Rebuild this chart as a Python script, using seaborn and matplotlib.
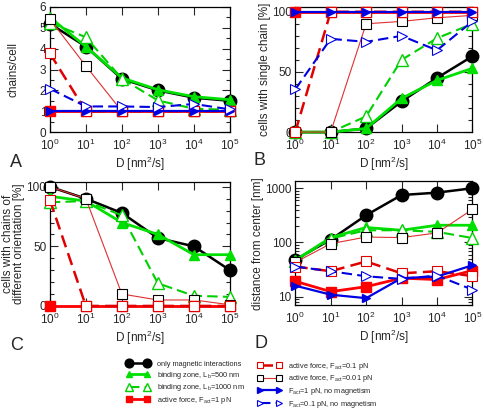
import numpy as np
import pandas as pd
import matplotlib
matplotlib.use('Agg')
import matplotlib.pyplot as plt
import seaborn as sns
from matplotlib.lines import Line2D
from matplotlib.ticker import MultipleLocator, LogLocator, NullFormatter, NullLocator

# Diffusion coefficients D [nm^2/s]
D_VALUES = [1, 10, 100, 1000, 10000, 100000]

SERIES = ['magnetic', 'bind500', 'bind1000', 'act001', 'act1', 'act01', 'nomag1', 'nomag01']

# Panel A: chains per cell
chains_magnetic = [5.2, 4.1, 2.55, 2.0, 1.65, 1.5]
chains_bind500 = [5.5, 4.1, 2.6, 2.03, 1.7, 1.55]
chains_bind1000 = [5.25, 4.55, 2.56, 1.52, 1.12, 1.07]
chains_act001 = [5.42, 3.17, 1.0, 1.0, 1.0, 1.0]
chains_act1 = [1.0, 1.0, 1.0, 1.0, 1.0, 1.0]
chains_act01 = [3.78, 1.0, 1.0, 1.0, 1.0, 1.0]
chains_nomag1 = [1.0, 1.0, 1.0, 1.0, 1.0, 1.0]
chains_nomag01 = [2.08, 1.23, 1.23, 1.2, 1.35, 1.09]

# Panel B: cells with single chain [%]
single_magnetic = [0, 0, 3, 25.5, 45, 63]
single_bind500 = [0, 0, 3, 28, 43, 53]
single_bind1000 = [0, 0, 13, 60, 78, 90]
single_act001 = [0, 0, 90, 92, 95, 97]
single_act1 = [100, 100, 100, 100, 100, 100]
single_act01 = [0, 100, 100, 100, 100, 100]
single_nomag1 = [100, 100, 100, 100, 100, 100]
single_nomag01 = [35.5, 77.5, 75, 80, 68, 92]

# Panel C: cells with chains of different orientation [%]
orient_magnetic = [100, 90, 78, 57, 50, 30]
orient_bind500 = [92, 88, 70, 60, 43, 43]
orient_bind1000 = [87, 88, 76, 19, 8.5, 7.6]
orient_act001 = [100, 90, 10, 5, 5, 1]
orient_act1 = [0, 0, 0, 0, 0, 0]
orient_act01 = [89, 0, 0, 0, 0, 0]

# Panel D: distance from center [nm]
dist_magnetic = [48, 113, 318, 750, 830, 1000]
dist_bind500 = [47, 123, 189, 168, 208, 208]
dist_bind1000 = [45, 118, 168, 168, 157, 121]
dist_act001 = [43, 95, 126, 123, 150, 407]
dist_act1 = [19.3, 12.4, 15.3, 22, 20.7, 30.4]
dist_act01 = [36, 29.5, 44.7, 27, 29.5, 24]
dist_nomag1 = [16, 10.9, 9.4, 22, 23.5, 38]
dist_nomag01 = [36, 29.5, 23.8, 21.3, 24.6, 13.5]

LABELS = {
    'magnetic': 'only magnetic interactions',
    'bind500': 'binding zone, L$_b$=500 nm',
    'bind1000': 'binding zone, L$_b$=1000 nm',
    'act1': 'active force, F$_{act}$=1 pN',
    'act01': 'active force, F$_{act}$=0.1 pN',
    'act001': 'active force, F$_{act}$=0.01 pN',
    'nomag1': 'F$_{act}$=1 pN, no magnetism',
    'nomag01': 'F$_{act}$=0.1 pN, no magnetism',
}

DASH = (5, 2.5)
STYLES = {
    'magnetic': dict(color='black', lw=1.8, ls='-', marker='o', ms=9, mfc='black', mec='black'),
    'bind500': dict(color='#00e000', lw=2.0, ls='-', marker='^', ms=7, mfc='#00e000', mec='#00e000'),
    'bind1000': dict(color='#00d000', lw=1.5, ls=(0, DASH), marker='^', ms=8, mfc='white', mec='#00d000'),
    'act001': dict(color='#e03030', lw=0.8, ls='-', marker='s', ms=7, mfc='white', mec='black', mew=0.8),
    'act1': dict(color='#ff0000', lw=2.0, ls='-', marker='s', ms=7, mfc='#ff0000', mec='#ff0000'),
    'act01': dict(color='#e00000', lw=1.8, ls=(0, DASH), marker='s', ms=7, mfc='white', mec='#e00000', mew=0.8),
    'nomag1': dict(color='#0000e0', lw=1.6, ls='-', marker='>', ms=6, mfc='#0000e0', mec='#0000e0'),
    'nomag01': dict(color='#0000e0', lw=1.5, ls=(0, DASH), marker='>', ms=7, mfc='white', mec='#0000e0', mew=0.8),
}

panels = {
    'A': dict(magnetic=chains_magnetic, bind500=chains_bind500, bind1000=chains_bind1000,
              act001=chains_act001, act1=chains_act1, act01=chains_act01,
              nomag1=chains_nomag1, nomag01=chains_nomag01),
    'B': dict(magnetic=single_magnetic, bind500=single_bind500, bind1000=single_bind1000,
              act001=single_act001, act1=single_act1, act01=single_act01,
              nomag1=single_nomag1, nomag01=single_nomag01),
    'C': dict(magnetic=orient_magnetic, bind500=orient_bind500, bind1000=orient_bind1000,
              act001=orient_act001, act1=orient_act1, act01=orient_act01),
    'D': dict(magnetic=dist_magnetic, bind500=dist_bind500, bind1000=dist_bind1000,
              act001=dist_act001, act1=dist_act1, act01=dist_act01,
              nomag1=dist_nomag1, nomag01=dist_nomag01),
}

sns.set_style('ticks')
plt.rcParams['font.family'] = ['Liberation Sans', 'DejaVu Sans']
plt.rcParams['mathtext.fontset'] = 'custom'
plt.rcParams['mathtext.rm'] = 'Liberation Sans'
plt.rcParams['mathtext.it'] = 'Liberation Sans'

fig = plt.figure(figsize=(4.84, 4.09), dpi=100)
pos = {
    'A': [0.103, 0.677, 0.372, 0.306],
    'B': [0.610, 0.677, 0.366, 0.306],
    'C': [0.103, 0.252, 0.372, 0.303],
    'D': [0.610, 0.254, 0.366, 0.303],
}
ylabels = {
    'A': 'chains/cell',
    'B': 'cells with single chain [%]',
    'C': 'cells with chains of\ndifferent orientation [%]',
    'D': 'distance from center [nm]',
}
letter_pos = {'A': (0.02, 0.592), 'B': (0.524, 0.597), 'C': (0.02, 0.144), 'D': (0.525, 0.149)}

handles = {}
for key, data in panels.items():
    ax = fig.add_axes(pos[key])
    ax.set_xscale('log')
    if key == 'D':
        ax.set_yscale('log')
    for name in SERIES:
        if name not in data:
            continue
        st = dict(STYLES[name])
        df = pd.DataFrame({'D': D_VALUES, 'val': data[name]})
        sns.lineplot(data=df, x='D', y='val', ax=ax, color=st.pop('color'),
                     linewidth=st.pop('lw'), linestyle=st.pop('ls'),
                     marker=st.pop('marker'), markersize=st.pop('ms'),
                     markerfacecolor=st.pop('mfc'), markeredgecolor=st.pop('mec'),
                     markeredgewidth=st.pop('mew', 1.0), clip_on=False, zorder=3)
    ax.set_xlim(1, 1e5)
    ax.set_xticks(D_VALUES)
    ax.set_xticklabels([r'$10^{%d}$' % i for i in range(6)])
    ax.xaxis.set_minor_locator(NullLocator())
    if key == 'A':
        ax.set_ylim(0, 6)
        ax.yaxis.set_major_locator(MultipleLocator(1))
        ax.yaxis.set_minor_locator(MultipleLocator(0.5))
    elif key in ('B', 'C'):
        ax.set_ylim(0, 104)
        ax.yaxis.set_major_locator(MultipleLocator(50))
        ax.yaxis.set_minor_locator(MultipleLocator(10))
    else:
        ax.set_ylim(7, 1350)
        ax.set_yticks([10, 100, 1000])
        ax.set_yticklabels(['10', '100', '1000'])
        ax.yaxis.set_minor_locator(LogLocator(base=10, subs=np.arange(2, 10)))
        ax.yaxis.set_minor_formatter(NullFormatter())
    ax.tick_params(which='both', direction='in', top=True, right=True, labelsize=8.5, pad=2.5)
    ax.tick_params(axis='x', which='major', pad=4)
    ax.tick_params(which='major', length=6, width=0.8)
    ax.tick_params(which='minor', length=3, width=0.8)
    for sp in ax.spines.values():
        sp.set_linewidth(0.9)
        sp.set_color('black')
    ax.set_xlabel('D [nm$^2$/s]', fontsize=8.5, labelpad=1.5)
    ax.set_ylabel(ylabels[key], fontsize=8.5, labelpad=1, linespacing=0.95)
    if key == 'A':
        ax.yaxis.set_label_coords(-0.17, 0.5)
    if ax.get_legend() is not None:
        ax.get_legend().remove()
    fig.text(letter_pos[key][0], letter_pos[key][1], key, fontsize=13, va='baseline')

for name in SERIES:
    st = dict(STYLES[name])
    handles[name] = Line2D([], [], color=st['color'], lw=st['lw'], ls=st['ls'],
                           marker=st['marker'], ms=st['ms'], mfc=st['mfc'],
                           mec=st['mec'], mew=st.get('mew', 1.0))

col1 = ['magnetic', 'bind500', 'bind1000', 'act1']
col2 = ['act01', 'act001', 'nomag1', 'nomag01']
leg_kw = dict(loc='upper left', frameon=False, fontsize=5.3, numpoints=2,
              handlelength=3.1, handletextpad=1.0, labelspacing=0.22,
              borderpad=0.0, borderaxespad=0.0, markerscale=0.7)
fig.legend([handles[n] for n in col1], [LABELS[n] for n in col1],
           bbox_to_anchor=(0.262, 0.118), **leg_kw)
fig.legend([handles[n] for n in col2], [LABELS[n] for n in col2],
           bbox_to_anchor=(0.533, 0.118), **leg_kw)

fig.savefig('out.png', dpi=100)
